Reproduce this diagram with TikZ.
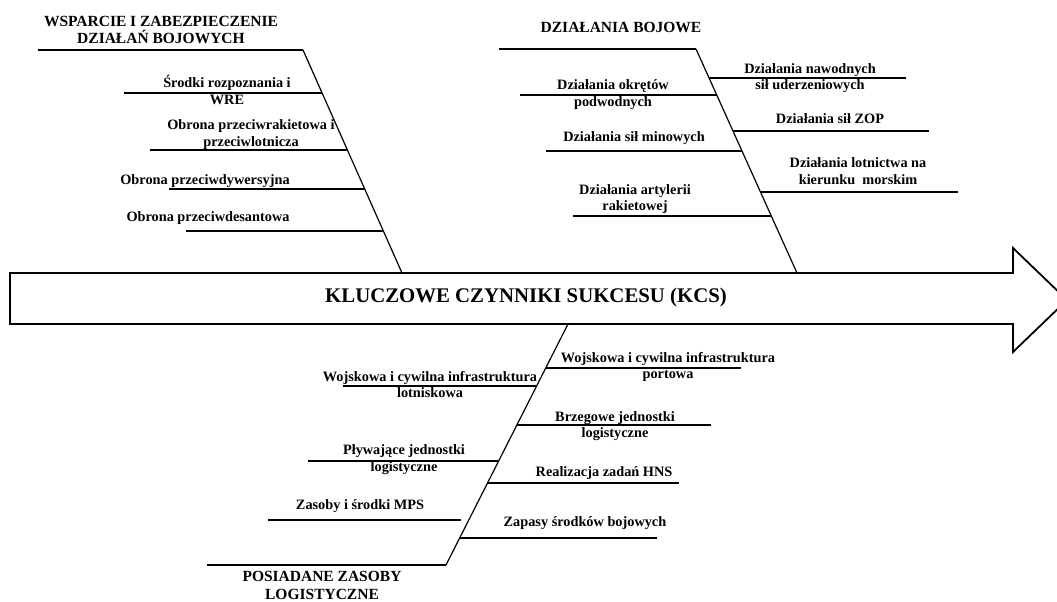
\documentclass[tikz,border=0pt]{standalone}
\usepackage{fontspec}
\setmainfont{Liberation Serif}[BoldFont={Liberation Serif Bold}]

\begin{document}
\begin{tikzpicture}[x=1pt,y=-1pt,bone/.style={line width=1.2pt},rib/.style={line width=1.1pt},headline/.style={line width=1.8pt},cat/.style={align=center,anchor=base,inner sep=0,font=\fontsize{15.5}{17.8}\selectfont\bfseries},cause/.style={align=center,anchor=base,inner sep=0,font=\fontsize{14.3}{16.3}\selectfont\bfseries}]
\clip (0,0) rectangle (1057,602);
% main arrow
\draw[headline,line join=miter] (10,273) -- (1013,273) -- (1013,248) -- (1067,300) -- (1013,352) -- (1013,324) -- (10,324) -- cycle;
\node[inner sep=0,anchor=base,font=\fontsize{20.8}{24}\selectfont\bfseries] (kcs) at (526,302) {KLUCZOWE CZYNNIKI SUKCESU (KCS)};
% bones
\coordinate (wL) at (38,50); \coordinate (wT) at (303,50); \coordinate (wB) at (402,273);
\coordinate (dL) at (499,49); \coordinate (dT) at (696,49); \coordinate (dB) at (797,273);
\coordinate (pL) at (207,565); \coordinate (pT) at (446,565); \coordinate (pB) at (568,324);
\draw[headline] (wL)--(wT); \draw[bone] (wT)--(wB);
\draw[headline] (dL)--(dT); \draw[bone] (dT)--(dB);
\draw[headline] (pL)--(pT); \draw[bone] (pT)--(pB);
% ribs
\foreach \n/\xa/\xb/\y in {w1/124/322/93,w2/150/347/150,w3/169/365/189,w4/186/383/231,
  d1/520/717/95,d2/546/742/151,d3/573/771/216,d4/709/906/78,d5/733/929/131,d6/760/958/192,
  p1/343/537/386,p2/308/499/461,p3/268/461/520,p4/546/741/368,p5/517/711/425,p6/488/679/483,p7/460/657/538}{
  \coordinate (\n a) at (\xa,\y); \coordinate (\n b) at (\xb,\y);
  \draw[rib] (\n a)--(\n b);
}
% categories (base = last line)
\node[cat] (wsp) at (161,44) {WSPARCIE I ZABEZPIECZENIE\\DZIAŁAŃ BOJOWYCH};
\node[cat] (boj) at (621,32.5) {DZIAŁANIA BOJOWE};
\node[cat] (log) at (322,599.5) {POSIADANE ZASOBY\\LOGISTYCZNE};
% causes
\node[cause] (w1t) at (227,104) {Środki rozpoznania i\\WRE};
\node[cause] (w2t) at (251,146) {Obrona przeciwrakietowa i\\przeciwlotnicza};
\node[cause] (w3t) at (205,184) {Obrona przeciwdywersyjna};
\node[cause] (w4t) at (208,221.5) {Obrona przeciwdesantowa};
\node[cause] (d1t) at (613,106) {Działania okrętów\\podwodnych};
\node[cause] (d2t) at (634,141.5) {Działania sił minowych};
\node[cause] (d3t) at (635,210.7) {Działania artylerii\\rakietowej};
\node[cause] (d4t) at (810,89.3) {Działania nawodnych\\sił uderzeniowych};
\node[cause] (d5t) at (830,123.3) {Działania sił ZOP};
\node[cause] (d6t) at (858,184) {Działania lotnictwa na\\kierunku~ morskim};
\node[cause] (p1t) at (430,397.3) {Wojskowa i cywilna infrastruktura\\lotniskowa};
\node[cause] (p2t) at (404,471) {Pływające jednostki\\logistyczne};
\node[cause] (p3t) at (360,509) {Zasoby i środki MPS};
\node[cause] (p4t) at (668,378.3) {Wojskowa i cywilna infrastruktura\\portowa};
\node[cause] (p5t) at (615,437.3) {Brzegowe jednostki\\logistyczne};
\node[cause] (p6t) at (604,476.7) {Realizacja zadań HNS};
\node[cause] (p7t) at (585,526.7) {Zapasy środków bojowych};
\end{tikzpicture}
\end{document}
